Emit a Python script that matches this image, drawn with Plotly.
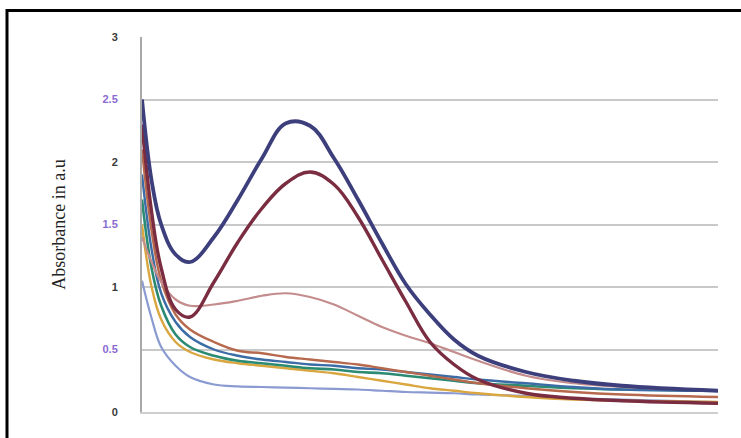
import plotly.graph_objects as go

# Wavelength grid (nm) shared by all spectra
wavelength = [200, 210, 220, 235, 250, 275, 300, 325, 350, 375, 400,
              425, 450, 475, 500, 525, 550, 600, 650, 700, 800]

# Absorbance spectra (a.u.)
navy = [2.50, 1.85, 1.50, 1.26, 1.20, 1.40, 1.70, 2.03, 2.31, 2.29, 2.03,
        1.70, 1.35, 1.02, 0.78, 0.58, 0.45, 0.32, 0.25, 0.21, 0.17]
maroon = [2.30, 1.60, 1.15, 0.82, 0.76, 1.04, 1.36, 1.63, 1.83, 1.92, 1.82,
          1.56, 1.22, 0.88, 0.56, 0.38, 0.26, 0.15, 0.11, 0.09, 0.07]
rose = [1.40, 1.20, 1.04, 0.90, 0.85, 0.86, 0.89, 0.93, 0.95, 0.92, 0.86,
        0.77, 0.68, 0.61, 0.55, 0.48, 0.41, 0.29, 0.23, 0.20, 0.17]
sienna = [2.10, 1.45, 1.05, 0.78, 0.66, 0.56, 0.49, 0.47, 0.44, 0.42, 0.40,
          0.38, 0.35, 0.32, 0.29, 0.26, 0.23, 0.19, 0.16, 0.14, 0.12]
steel = [1.90, 1.30, 0.95, 0.72, 0.60, 0.50, 0.45, 0.42, 0.40, 0.38, 0.37,
         0.35, 0.34, 0.32, 0.30, 0.28, 0.26, 0.23, 0.20, 0.18, 0.17]
teal = [1.70, 1.15, 0.85, 0.62, 0.52, 0.45, 0.41, 0.39, 0.37, 0.35, 0.34,
        0.32, 0.31, 0.29, 0.27, 0.25, 0.23, 0.21, 0.19, 0.18, 0.17]
gold = [1.50, 1.00, 0.74, 0.56, 0.48, 0.42, 0.39, 0.37, 0.35, 0.33, 0.31,
        0.28, 0.25, 0.22, 0.19, 0.17, 0.15, 0.12, 0.10, 0.09, 0.08]
lightblue = [1.05, 0.75, 0.52, 0.37, 0.28, 0.22, 0.205, 0.20, 0.195, 0.19, 0.185,
             0.18, 0.17, 0.16, 0.155, 0.15, 0.14, 0.13, 0.11, 0.10, 0.08]

y_tick_values = [0, 0.5, 1, 1.5, 2, 2.5, 3]
y_tick_labels = ["0", "0.5", "1", "1.5", "2", "2.5", "3"]

series = [
    (lightblue, "#8b9bd2", 2.2),
    (gold, "#d9a640", 2.4),
    (teal, "#2b8a72", 2.6),
    (steel, "#3c6ca6", 2.4),
    (sienna, "#b7694e", 2.4),
    (rose, "#c48c8c", 2.2),
    (maroon, "#7a2c40", 3.4),
    (navy, "#3d3f7c", 3.8),
]

fig = go.Figure()
for values, color, width in series:
    fig.add_trace(go.Scatter(
        x=wavelength, y=values, mode="lines",
        line=dict(color=color, width=width, shape="spline", smoothing=1.1),
        showlegend=False, hoverinfo="skip",
    ))

# Alternate tick label colours: whole numbers dark, halves violet
tick_text = []
for v, lab in zip(y_tick_values, y_tick_labels):
    col = "#3a3a3a" if float(v).is_integer() else "#8a6ad0"
    tick_text.append(f"<span style='color:{col}'><b>{lab}</b></span>")

fig.update_layout(
    width=741, height=438,
    margin=dict(l=142, r=23, t=37, b=26),
    paper_bgcolor="white", plot_bgcolor="white",
    font=dict(family="Liberation Sans", size=11, color="#3a3a3a"),
    xaxis=dict(
        range=[200, 800], showgrid=False, zeroline=False,
        showticklabels=False, ticks="",
        showline=True, linecolor="#cfcfcf", linewidth=2,
    ),
    yaxis=dict(
        range=[0, 3], tickvals=y_tick_values, ticktext=tick_text,
        showgrid=True, gridcolor="#c9c9c9", gridwidth=2,
        zeroline=False, showline=True, linecolor="#a8a8a8", linewidth=2,
        ticks="", ticklabelstandoff=20,
        title=dict(text="Absorbance in a.u",
                   font=dict(family="Liberation Serif", size=18, color="#222222"),
                   standoff=32),
    ),
    shapes=[dict(
        type="rect", xref="paper", yref="paper",
        x0=(7 - 142) / 576, x1=(760 - 142) / 576,
        y0=(412 - 460) / 375, y1=(412 - 10.5) / 375,
        line=dict(color="black", width=3), fillcolor="rgba(0,0,0,0)",
        layer="above",
    )],
)

fig.write_html("out.html")
